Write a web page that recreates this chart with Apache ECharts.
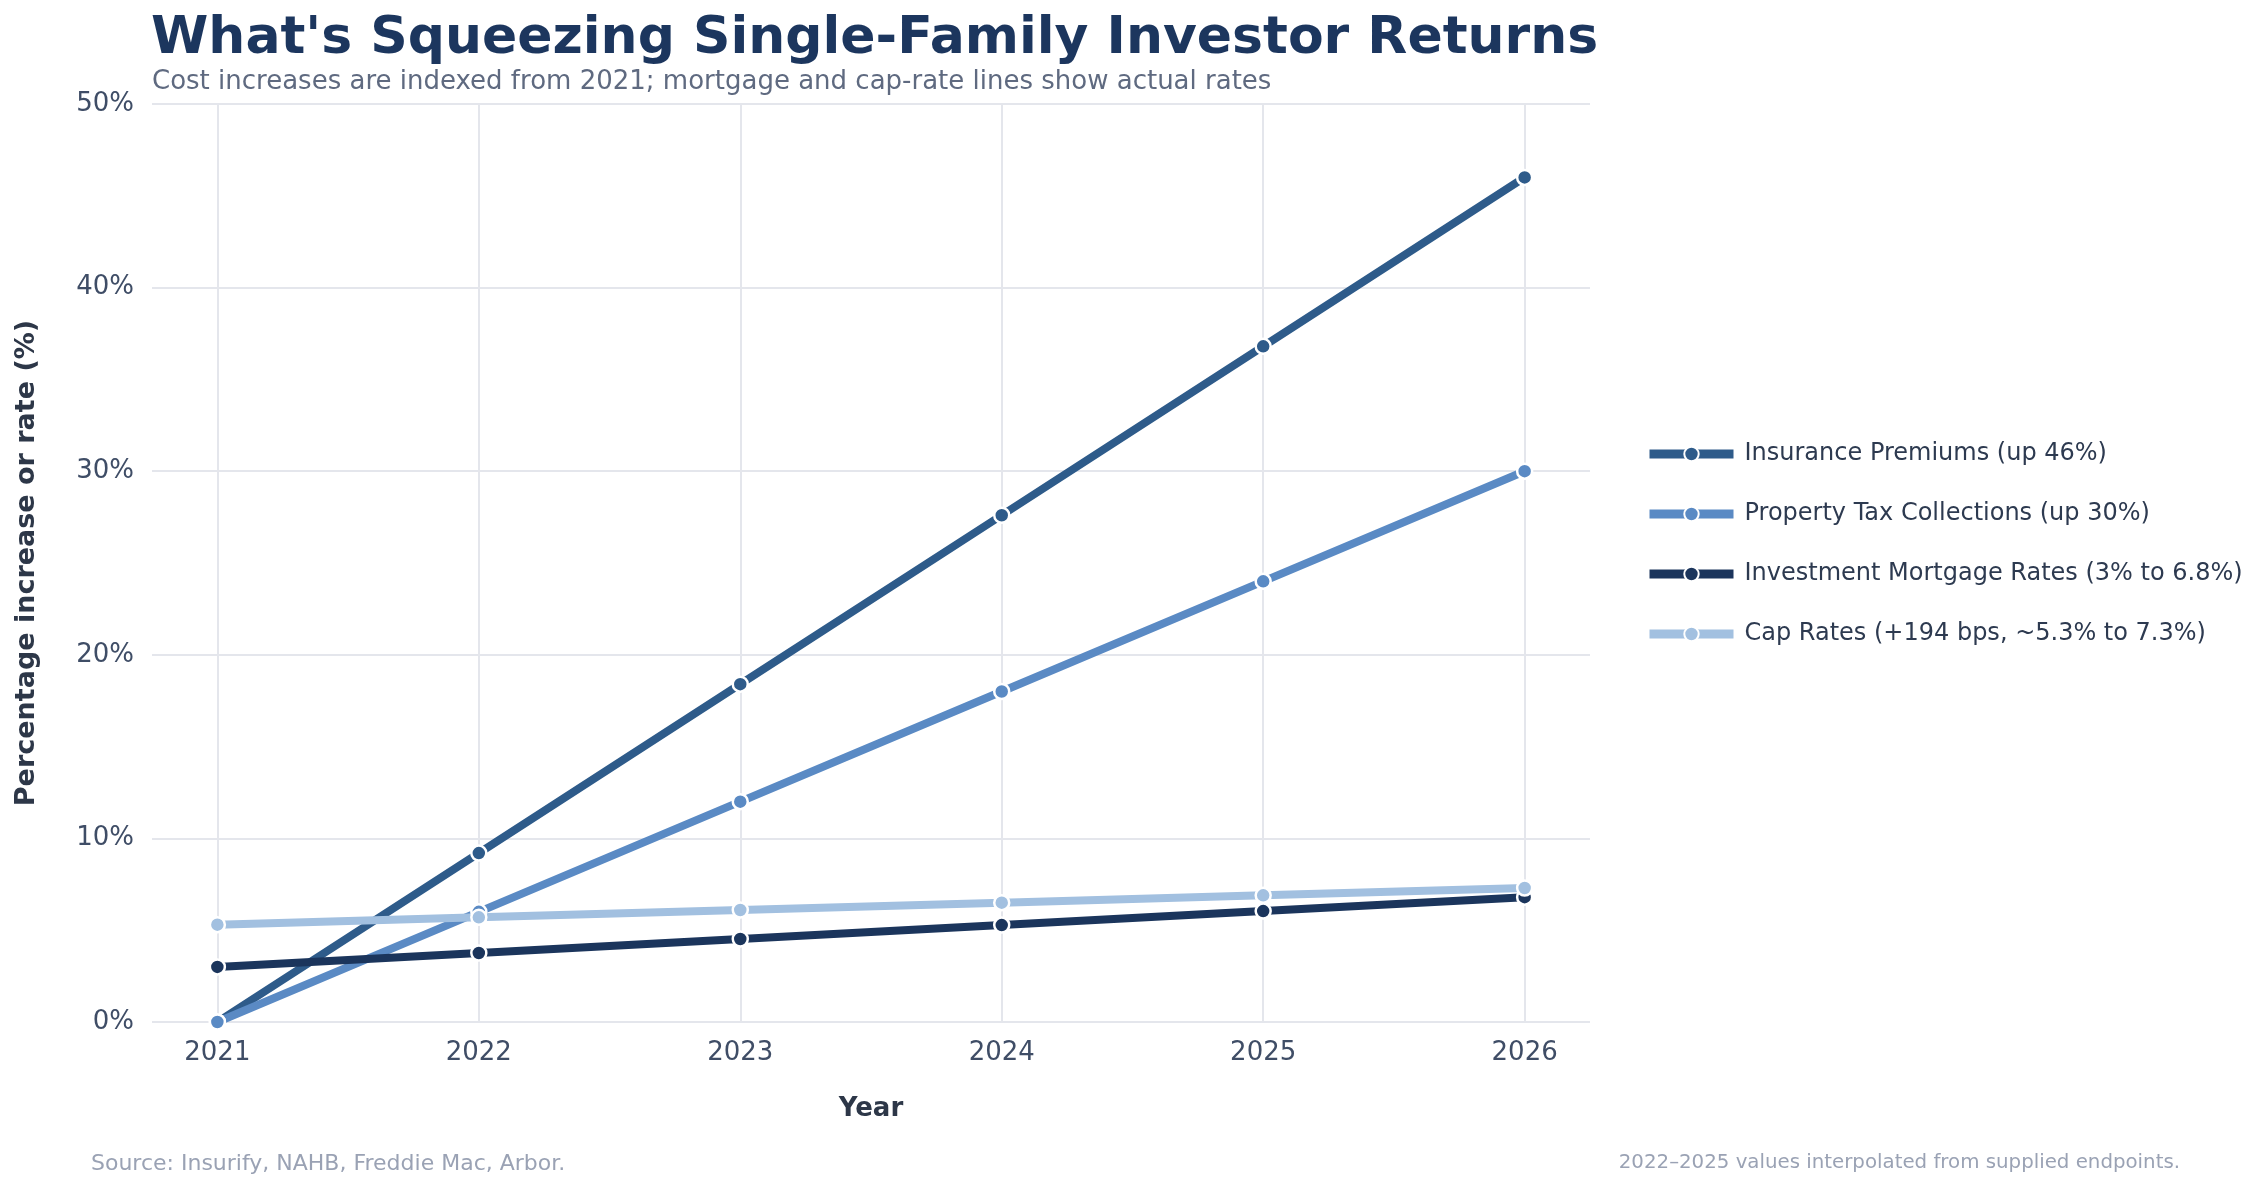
<!DOCTYPE html>
<html>
<head>
<meta charset="utf-8">
<script src="https://cdn.jsdelivr.net/npm/echarts@6/dist/echarts.min.js"></script>
<style>
  html, body { margin: 0; padding: 0; background: #ffffff; }
  #chart { width: 2267px; height: 1188px; }
</style>
</head>
<body>
<div id="chart"></div>
<script>
const years = [2021, 2022, 2023, 2024, 2025, 2026];
const insurance = [0, 9.2, 18.4, 27.6, 36.8, 46];
const propertyTax = [0, 6, 12, 18, 24, 30];
const mortgageRates = [3, 3.76, 4.52, 5.28, 6.04, 6.8];
const capRates = [5.3, 5.7, 6.1, 6.5, 6.9, 7.3];

const seriesDefs = [
  { name: "Insurance Premiums (up 46%)", data: insurance, color: "#2e5b8a" },
  { name: "Property Tax Collections (up 30%)", data: propertyTax, color: "#5a8ac4" },
  { name: "Investment Mortgage Rates (3% to 6.8%)", data: mortgageRates, color: "#1b355c" },
  { name: "Cap Rates (+194 bps, ~5.3% to 7.3%)", data: capRates, color: "#a2c0e0" },
];

const font = "DejaVu Sans";
const chart = echarts.init(document.getElementById("chart"));

const option = {
  animation: false,
  backgroundColor: "#ffffff",
  textStyle: { fontFamily: font },
  title: [
    {
      text: "What's Squeezing Single-Family Investor Returns",
      left: 146,
      top: 8,
      textStyle: { fontSize: 52, fontWeight: "bold", color: "#1c365e", fontFamily: font },
    },
    {
      text: "Cost increases are indexed from 2021; mortgage and cap-rate lines show actual rates",
      left: 147,
      top: 64,
      textStyle: { fontSize: 26, fontWeight: "normal", color: "#5f6a80", fontFamily: font },
    },
    {
      text: "Source: Insurify, NAHB, Freddie Mac, Arbor.",
      left: 86,
      top: 1148,
      textStyle: { fontSize: 22, fontWeight: "normal", color: "#9aa2b4", fontFamily: font },
    },
    {
      text: "2022\u20132025 values interpolated from supplied endpoints.",
      right: 82,
      top: 1148,
      textStyle: { fontSize: 19.8, fontWeight: "normal", color: "#9aa2b4", fontFamily: font },
    },
  ],
  legend: {
    orient: "vertical",
    left: 1640,
    top: 437,
    itemWidth: 84,
    itemHeight: 18,
    itemGap: 36,
    lineStyle: { width: 9 },
    textStyle: { fontSize: 24, color: "#2d3a50", fontFamily: font, padding: [0, 0, 0, 6] },
    data: seriesDefs.map(s => s.name),
  },
  grid: { left: 152, right: 677, top: 104, bottom: 166, containLabel: false },
  xAxis: {
    type: "value",
    min: 2020.75,
    max: 2026.25,
    name: "Year",
    nameLocation: "middle",
    nameGap: 74,
    nameTextStyle: { fontSize: 26, fontWeight: "bold", color: "#2d3748", fontFamily: font },
    axisLine: { show: false },
    axisTick: { show: false, customValues: years },
    axisLabel: {
      customValues: years,
      fontSize: 26,
      color: "#3f4d66",
      margin: 18,
      formatter: v => String(v),
    },
    splitLine: { show: true, lineStyle: { color: "#e4e6ec", width: 2 } },
  },
  yAxis: {
    type: "value",
    min: 0,
    max: 50,
    interval: 10,
    name: "Percentage increase or rate (%)",
    nameLocation: "middle",
    nameGap: 112,
    nameTextStyle: { fontSize: 27, fontWeight: "bold", color: "#2d3748", fontFamily: font },
    axisLine: { show: false },
    axisTick: { show: false },
    axisLabel: {
      fontSize: 26,
      color: "#3f4d66",
      margin: 18,
      formatter: v => v + "%",
    },
    splitLine: { show: true, lineStyle: { color: "#e4e6ec", width: 2 } },
  },
  series: seriesDefs.map(s => ({
    name: s.name,
    type: "line",
    data: years.map((y, i) => [y, s.data[i]]),
    lineStyle: { width: 8, color: s.color },
    itemStyle: { color: s.color, borderColor: "#ffffff", borderWidth: 2.5 },
    symbol: "circle",
    symbolSize: 15,
    showSymbol: true,
    clip: false,
  })),
};

chart.setOption(option);
</script>
</body>
</html>
